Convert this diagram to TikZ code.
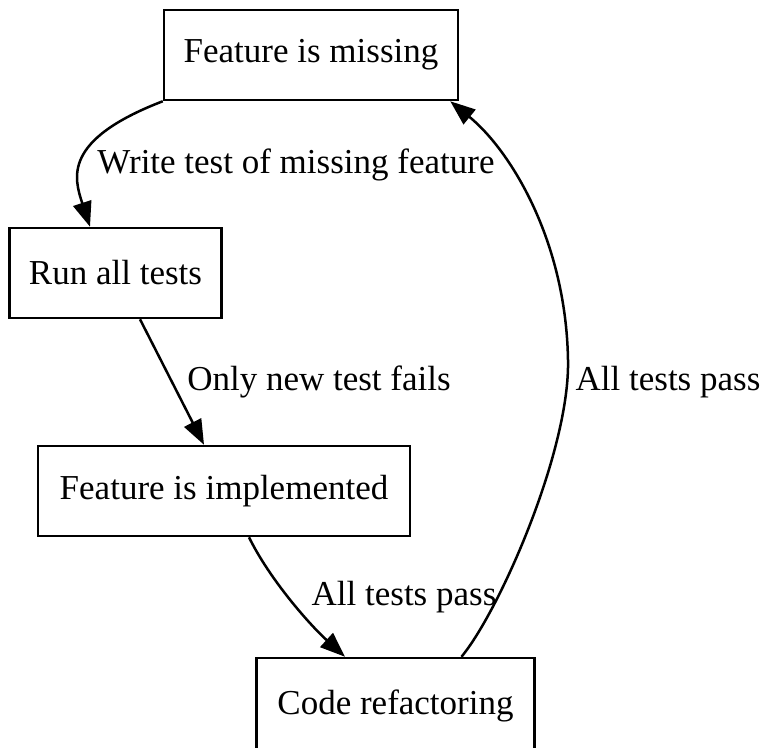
\documentclass[tikz,border=0pt]{standalone}
\usepackage{fontspec}
\setmainfont{Liberation Serif}
\usetikzlibrary{arrows.meta,calc}
\begin{document}
\begin{tikzpicture}[x=0.4pt,y=-0.4pt,
  every node/.style={font=\fontsize{14pt}{16pt}\selectfont},
  statebox/.style={draw,line width=1pt,rectangle,inner sep=0pt,minimum height={90*0.4pt}},
  flow/.style={line width=1pt,-{Triangle[length=10pt,width=7.5pt]}},
  lbl/.style={inner sep=0pt}]
  \useasboundingbox (0,0) rectangle (765,747);

  % states of the cycle
  \node[statebox,minimum width={294*0.4pt}] (missing) at (311,55) {Feature is missing};
  \node[statebox,minimum width={212*0.4pt}] (run) at (115.5,273) {Run all tests};
  \node[statebox,minimum width={372*0.4pt}] (impl) at (224,491) {Feature is implemented};
  % the last box runs past the lower edge of the page
  \node[statebox,minimum width={278*0.4pt},minimum height={96*0.4pt}] (refactor) at (395.5,706) {Code refactoring};

  % transitions
  \draw[flow] (missing.south west) .. controls (62,140) and (74,178) .. ([xshift=-25.5*0.4pt]run.north);
  \draw[flow] ([xshift=24.5*0.4pt]run.south) -- ([xshift=-20*0.4pt]impl.north);
  \draw[flow] ([xshift=25*0.4pt]impl.south) .. controls (270,580) and (310,625) .. ([xshift=-50.5*0.4pt]refactor.north);
  \draw[flow] ([xshift=66*0.4pt]refactor.north) .. controls (500,610) and (570,450) .. (568,360)
    coordinate (bend) .. controls (566,240) and (510,150) .. ([xshift=-9*0.4pt]missing.south east);

  % transition labels
  \node[lbl] (l1) at (296,165) {Write test of missing feature};
  \node[lbl] (l2) at (319,382) {Only new test fails};
  \node[lbl] (l3) at (404,597) {All tests pass};
  \node[lbl] (l4) at (668,382) {All tests pass};
\end{tikzpicture}
\end{document}
